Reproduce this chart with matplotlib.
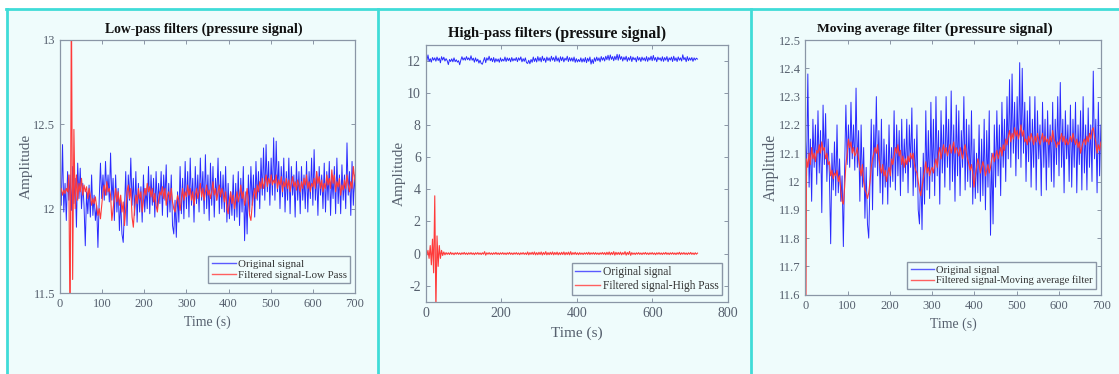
import matplotlib
matplotlib.use('Agg')
import matplotlib.pyplot as plt
from matplotlib.patches import Rectangle
from matplotlib.lines import Line2D
from matplotlib.ticker import FuncFormatter
import numpy as np

plt.rcParams['font.family'] = ['Liberation Serif', 'DejaVu Serif']

# sample times (s), every 3 s
time = np.arange(0, 721, 3)

# original pressure signal
original = [
    12.17, 12.02, 12.38, 11.98, 12.15, 11.93, 12.22, 12.05, 12.20, 11.99,
    12.25, 12.03, 12.18, 11.89, 12.27, 12.06, 12.24, 12.00, 12.15, 12.02,
    11.78, 12.10, 11.97, 12.14, 11.95, 12.20, 11.96, 12.08, 11.93, 12.02,
    11.77, 12.05, 12.27, 12.06, 12.20, 12.05, 12.28, 12.08, 12.20, 12.04,
    12.33, 12.05, 12.18, 11.93, 12.20, 11.98, 12.12, 11.87, 12.05, 11.85,
    11.80, 12.00, 12.22, 11.90, 12.20, 12.05, 12.30, 12.02, 12.18, 11.96,
    12.22, 11.92, 12.15, 11.98, 12.13, 11.92, 12.20, 11.98, 12.12, 12.00,
    12.25, 11.97, 12.20, 12.02, 12.18, 11.95, 12.22, 12.00, 12.15, 12.03,
    12.22, 11.96, 12.20, 12.05, 12.26, 11.95, 12.15, 11.98, 12.20, 11.90,
    11.85, 12.05, 11.83, 12.10, 11.92, 12.25, 11.97, 12.18, 11.94, 12.28,
    12.00, 12.22, 11.95, 12.30, 12.02, 12.18, 11.92, 12.25, 12.03, 12.20,
    11.98, 12.30, 12.05, 12.22, 11.97, 12.32, 12.00, 12.20, 11.93, 12.27,
    12.02, 12.25, 11.95, 12.18, 12.05, 12.30, 11.97, 12.22, 12.00, 12.20,
    11.98, 12.25, 11.92, 12.15, 11.94, 12.10, 11.96, 12.20, 11.93, 12.15,
    11.95, 12.22, 11.90, 12.18, 11.98, 12.25, 11.81, 12.10, 11.85, 12.20,
    11.98, 12.25, 12.02, 12.20, 11.95, 12.28, 12.05, 12.22, 12.00, 12.30,
    12.08, 12.36, 12.05, 12.38, 12.10, 12.28, 12.02, 12.30, 12.08, 12.42,
    12.05, 12.40, 12.10, 12.28, 12.00, 12.25, 12.07, 12.30, 11.98, 12.22,
    12.05, 12.30, 11.97, 12.25, 12.08, 12.20, 11.95, 12.28, 12.05, 12.22,
    11.97, 12.25, 12.05, 12.20, 12.00, 12.28, 11.98, 12.22, 12.06, 12.30,
    12.02, 12.35, 12.05, 12.22, 11.96, 12.25, 12.08, 12.20, 12.00, 12.27,
    11.98, 12.22, 12.05, 12.28, 11.96, 12.20, 12.06, 12.25, 11.97, 12.30,
    12.03, 12.20, 11.97, 12.26, 12.05, 12.20, 12.00, 12.39, 12.08, 12.22,
    11.96, 12.28, 12.02, 12.20, 12.05, 12.22, 11.98, 12.20, 12.06, 12.18,
    12.12]

low_pass = [
    12.10, 12.12, 12.08, 12.11, 12.09, 12.12, 12.10, 12.20, 11.20, 13.30,
    11.58, 12.47, 12.00, 12.20, 12.05, 12.15, 12.10, 12.18, 12.08, 12.14,
    12.10, 12.13, 12.06, 12.12, 12.08, 12.02, 12.06, 12.03, 12.07, 12.01,
    11.96, 12.00, 11.94, 12.02, 12.10, 12.14, 12.08, 12.16, 12.10, 12.12,
    12.08, 11.93, 12.00, 12.06, 12.12, 12.04, 12.10, 12.02, 12.08, 11.98,
    12.04, 11.90, 12.00, 12.10, 12.14, 12.06, 12.12, 11.95, 11.89, 12.00,
    12.08, 12.03, 12.12, 12.06, 12.10, 11.98, 12.05, 12.12, 12.08, 12.15,
    12.10, 12.13, 12.07, 12.12, 12.04, 12.09, 12.02, 11.98, 12.05, 12.10,
    12.08, 12.13, 12.06, 12.12, 12.02, 12.08, 12.10, 12.05, 12.12, 12.04,
    12.00, 11.98, 12.03, 12.08, 12.05, 11.99, 12.06, 12.12, 12.05, 12.10,
    12.07, 12.14, 12.08, 12.12, 12.05, 12.10, 12.02, 12.08, 12.12, 12.06,
    12.10, 12.15, 12.07, 12.12, 12.05, 12.10, 12.14, 12.08, 12.11, 12.06,
    12.10, 12.16, 12.08, 12.12, 12.05, 12.10, 12.14, 12.07, 12.12, 12.09,
    12.04, 12.10, 12.00, 11.97, 12.05, 12.10, 12.03, 12.08, 12.00, 12.05,
    12.10, 12.04, 12.08, 12.14, 12.06, 12.10, 12.02, 12.06, 12.12, 12.04,
    11.96, 11.93, 12.02, 12.08, 12.12, 12.06, 12.14, 12.10, 12.16, 12.12,
    12.18, 12.12, 12.16, 12.20, 12.13, 12.18, 12.15, 12.20, 12.14, 12.17,
    12.15, 12.20, 12.12, 12.17, 12.14, 12.19, 12.10, 12.16, 12.13, 12.18,
    12.12, 12.17, 12.10, 12.15, 12.19, 12.13, 12.16, 12.11, 12.17, 12.14,
    12.10, 12.16, 12.12, 12.18, 12.14, 12.20, 12.12, 12.16, 12.10, 12.15,
    12.13, 12.18, 12.12, 12.22, 12.15, 12.19, 12.12, 12.17, 12.10, 12.15,
    12.12, 12.20, 12.14, 12.18, 12.12, 12.23, 12.15, 12.20, 12.10, 12.16,
    12.13, 12.18, 12.08, 12.14, 12.11, 12.17, 12.12, 12.20, 12.14, 12.10,
    12.16, 12.12, 12.25, 12.18, 12.14, 12.20, 12.16, 12.19, 12.13, 12.17,
    12.15]

high_pass = [
    0.05, -0.10, 0.20, -0.30, 0.50, -0.70, 0.90, -1.20, 3.60, -3.60,
    1.10, -0.80, 0.50, -0.30, 0.20, -0.12, 0.10, -0.08, 0.06, -0.05,
    0.05, -0.06, 0.08, -0.05, 0.04, -0.07, 0.05, -0.04, 0.06, -0.05,
    0.04, -0.06, 0.05, -0.04, 0.07, -0.05, 0.04, -0.06, 0.05, -0.04,
    0.06, -0.05, 0.04, -0.07, 0.05, -0.04, 0.06, -0.05, 0.04, -0.06,
    0.05, -0.04, 0.12, -0.10, 0.05, -0.04, 0.06, -0.05, 0.04, -0.06,
    0.05, -0.04, 0.07, -0.05, 0.04, -0.06, 0.05, -0.04, 0.06, -0.05,
    0.04, -0.06, 0.05, -0.04, 0.07, -0.05, 0.04, -0.06, 0.05, -0.04,
    0.06, -0.05, 0.04, -0.07, 0.05, -0.04, 0.06, -0.05, 0.04, -0.06,
    0.10, -0.08, 0.06, -0.05, 0.08, -0.06, 0.10, -0.08, 0.06, -0.07,
    0.08, -0.06, 0.10, -0.09, 0.07, -0.06, 0.12, -0.08, 0.06, -0.07,
    0.08, -0.06, 0.10, -0.08, 0.07, -0.06, 0.09, -0.08, 0.06, -0.07,
    0.08, -0.06, 0.10, -0.08, 0.07, -0.06, 0.09, -0.08, 0.12, -0.07,
    0.06, -0.05, 0.08, -0.06, 0.05, -0.07, 0.06, -0.05, 0.04, -0.06,
    0.05, -0.04, 0.06, -0.05, 0.08, -0.06, 0.05, -0.04, 0.06, -0.05,
    0.06, -0.05, 0.04, -0.06, 0.05, -0.04, 0.07, -0.05, 0.06, -0.07,
    0.08, -0.06, 0.10, -0.08, 0.07, -0.06, 0.12, -0.10, 0.08, -0.06,
    0.07, -0.06, 0.09, -0.08, 0.06, -0.05, 0.12, -0.10, 0.07, -0.06,
    0.13, -0.11, 0.06, -0.05, 0.04, -0.06, 0.05, -0.04, 0.06, -0.05,
    0.04, -0.06, 0.05, -0.04, 0.07, -0.05, 0.04, -0.06, 0.05, -0.04,
    0.06, -0.05, 0.04, -0.07, 0.05, -0.04, 0.06, -0.05, 0.04, -0.06,
    0.05, -0.04, 0.07, -0.05, 0.04, -0.06, 0.05, -0.04, 0.06, -0.05,
    0.04, -0.06, 0.05, -0.04, 0.08, -0.06, 0.05, -0.04, 0.06, -0.05,
    0.04, -0.06, 0.05, -0.04, 0.07, -0.05, 0.04, -0.06, 0.05, -0.04,
    0.03]

moving_avg = [
    11.00, 12.08, 12.05, 12.10, 12.06, 12.12, 12.08, 12.10, 12.07, 12.11,
    12.10, 12.13, 12.10, 12.14, 12.11, 12.12, 12.08, 12.10, 12.06, 12.07,
    12.02, 12.04, 12.01, 12.03, 12.02, 12.04, 12.00, 12.02, 11.97, 11.93,
    11.92, 11.98, 12.06, 12.10, 12.15, 12.12, 12.14, 12.10, 12.12, 12.09,
    12.10, 12.12, 12.08, 12.05, 12.02, 12.06, 12.00, 11.97, 11.96, 11.94,
    11.96, 12.00, 12.05, 12.08, 12.10, 12.12, 12.10, 12.13, 12.08, 12.05,
    12.03, 12.06, 12.02, 12.04, 12.00, 12.03, 12.05, 12.02, 12.08, 12.06,
    12.09, 12.12, 12.10, 12.13, 12.09, 12.11, 12.06, 12.09, 12.05, 12.08,
    12.06, 12.09, 12.07, 12.10, 12.08, 12.10, 12.06, 12.04, 12.03, 12.00,
    11.97, 11.95, 11.98, 12.01, 12.04, 12.07, 12.03, 12.05, 12.02, 12.04,
    12.05, 12.03, 12.06, 12.08, 12.05, 12.10, 12.12, 12.08, 12.11, 12.13,
    12.10, 12.12, 12.09, 12.11, 12.13, 12.10, 12.12, 12.14, 12.10, 12.12,
    12.11, 12.09, 12.12, 12.10, 12.08, 12.11, 12.13, 12.10, 12.08, 12.06,
    12.04, 12.06, 12.03, 11.98, 12.02, 12.05, 12.08, 12.06, 12.03, 12.05,
    12.07, 12.05, 12.02, 12.04, 12.06, 12.03, 12.05, 12.08, 12.10, 12.07,
    12.09, 12.11, 12.08, 12.10, 12.12, 12.09, 12.13, 12.11, 12.15, 12.13,
    12.16, 12.18, 12.14, 12.17, 12.15, 12.19, 12.16, 12.18, 12.15, 12.17,
    12.20, 12.16, 12.18, 12.14, 12.15, 12.13, 12.16, 12.14, 12.17, 12.15,
    12.13, 12.16, 12.14, 12.17, 12.15, 12.13, 12.15, 12.17, 12.14, 12.16,
    12.14, 12.15, 12.13, 12.16, 12.14, 12.18, 12.15, 12.14, 12.12, 12.14,
    12.13, 12.15, 12.17, 12.14, 12.16, 12.13, 12.15, 12.13, 12.14, 12.16,
    12.14, 12.17, 12.15, 12.13, 12.15, 12.12, 12.14, 12.10, 12.12, 12.14,
    12.15, 12.13, 12.16, 12.14, 12.17, 12.15, 12.18, 12.19, 12.16, 12.14,
    12.10, 12.13, 12.11, 12.14, 12.12, 12.15, 12.13, 12.14, 12.12, 12.13,
    12.12]

W, H = 1119, 374
BG = '#effcfc'
EDGE = '#40dcd8'
GRAY = '#56606e'
SPINE = '#8a96a6'
BLUE = '#2a2aff'
RED = '#ff3a3a'

fig = plt.figure(figsize=(W / 100, H / 100), dpi=100)
fig.patch.set_facecolor('white')

# cyan framed panels
fig.add_artist(Rectangle((7 / W, 0), (W - 7) / W, (H - 9) / H, transform=fig.transFigure,
                         facecolor=BG, edgecolor='none', zorder=0))
fig.add_artist(Line2D([6 / W, 1], [1 - 9 / H, 1 - 9 / H], color=EDGE, lw=2,
                      transform=fig.transFigure))
for xv in [7, 377.5, 751]:
    fig.add_artist(Line2D([xv / W, xv / W], [0, 1 - 9 / H], color=EDGE, lw=2,
                          transform=fig.transFigure))


def make_axes(left, right, top, bottom):
    return fig.add_axes([left / W, 1 - bottom / H, (right - left) / W, (bottom - top) / H])


def style(ax, tsize):
    ax.set_facecolor('none')
    for s in ax.spines.values():
        s.set_color(SPINE)
        s.set_linewidth(0.9)
    ax.tick_params(direction='in', top=True, right=True, length=3, width=0.7,
                   color=SPINE, labelcolor=GRAY, labelsize=tsize)
    ax.yaxis.set_major_formatter(FuncFormatter(lambda v, p: '%g' % round(v, 3)))


def add_legend(ax, anchor, size):
    leg = ax.legend(loc='lower right', bbox_to_anchor=anchor, borderaxespad=0,
                    fontsize=size, frameon=True, fancybox=False, edgecolor=SPINE,
                    facecolor=BG, framealpha=1, handlelength=2.2, borderpad=0.3,
                    labelspacing=0.1, handletextpad=0.2, labelcolor='#333333')
    for h, c in zip(leg.get_lines(), ['#5a5aff', '#ff6060']):
        h.set_color(c)
        h.set_linewidth(1.0)


def two_part_title(xl, yc, p1, s1, p2, s2):
    t1 = fig.text(xl / W, 1 - yc / H, p1, fontsize=s1, weight='bold', color='#111111',
                  ha='left', va='center')
    plt.annotate(p2, xy=(1, 0.5), xycoords=t1, fontsize=s2, weight='bold',
                 color='#111111', ha='left', va='center', annotation_clip=False)


# panel 1: low-pass
ax1 = make_axes(60, 355, 40, 293)
ax1.plot(time, original, color=BLUE, lw=0.7, label='Original signal')
ax1.plot(time, low_pass, color=RED, lw=0.8, label='Filtered signal-Low Pass')
ax1.set_xlim(0, 700)
ax1.set_ylim(11.5, 13)
ax1.set_xticks(range(0, 701, 100))
ax1.set_yticks([11.5, 12, 12.5, 13])
style(ax1, 9)
ax1.set_xlabel('Time (s)', fontsize=10, color=GRAY, labelpad=4)
ax1.set_ylabel('Amplitude', fontsize=11, color=GRAY, labelpad=0)
add_legend(ax1, (0.983, 0.04), 7.8)
two_part_title(105, 29, 'Low-pass filters', 9.8, ' (pressure signal)', 10.3)

# panel 2: high-pass
ax2 = make_axes(425.7, 727.7, 45, 301.7)
ax2.plot(time, original, color=BLUE, lw=0.7, label='Original signal')
ax2.plot(time, high_pass, color=RED, lw=0.8, label='Filtered signal-High Pass')
ax2.set_xlim(0, 800)
ax2.set_ylim(-3, 13)
ax2.set_xticks(range(0, 801, 200))
ax2.set_yticks(range(-2, 13, 2))
style(ax2, 10)
ax2.set_xlabel('Time (s)', fontsize=11, color=GRAY, labelpad=5)
ax2.set_ylabel('Amplitude', fontsize=11, color=GRAY, labelpad=0.5)
add_legend(ax2, (0.981, 0.026), 8.3)
two_part_title(447.7, 34, 'High-pass filters', 10.6, ' (pressure signal)', 11.3)

# panel 3: moving average
ax3 = make_axes(805.3, 1101.3, 40, 294.7)
ax3.plot(time, original, color=BLUE, lw=0.7, label='Original signal')
ax3.plot(time, moving_avg, color=RED, lw=0.8, label='Filtered signal-Moving average filter')
ax3.set_xlim(0, 700)
ax3.set_ylim(11.6, 12.5)
ax3.set_xticks(range(0, 701, 100))
ax3.set_yticks(np.arange(11.6, 12.51, 0.1))
style(ax3, 9)
ax3.set_xlabel('Time (s)', fontsize=10, color=GRAY, labelpad=4.5)
ax3.set_ylabel('Amplitude', fontsize=11.3, color=GRAY, labelpad=0)
add_legend(ax3, (0.981, 0.024), 7.6)
two_part_title(816.7, 29, 'Moving average filter', 9.7, ' (pressure signal)', 11)

fig.savefig('out.png', dpi=100)
